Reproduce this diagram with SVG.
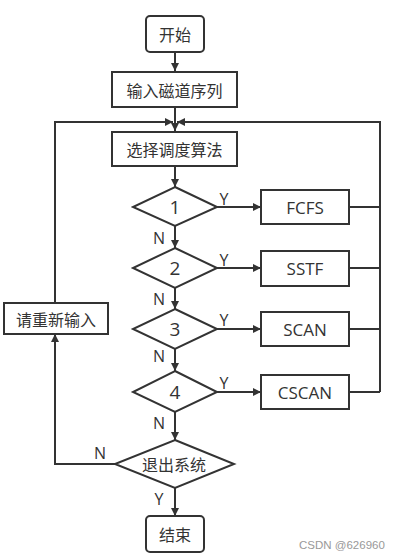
<svg xmlns="http://www.w3.org/2000/svg" width="400" height="559" viewBox="0 0 400 559">
<defs>
<style>
.box{fill:#fff;stroke:#333;stroke-width:2}
.ln{fill:none;stroke:#333;stroke-width:2}
.t{font-family:"Noto Sans CJK SC","Liberation Sans",sans-serif;font-size:16px;fill:#333;text-anchor:middle;dominant-baseline:central}
.e{font-family:"Open Sans","Liberation Sans",sans-serif;font-size:17px;fill:#333;text-anchor:middle;dominant-baseline:central}
.d{font-family:"Open Sans","Liberation Sans",sans-serif;font-size:19px;fill:#333;text-anchor:middle;dominant-baseline:central}
.lab{font-family:"Open Sans","Liberation Sans",sans-serif;font-size:16px;fill:#333;text-anchor:middle;dominant-baseline:central}
.wm{font-family:"Liberation Sans",sans-serif;font-size:11.5px;fill:#999}
</style>
<marker id="ar" viewBox="0 0 10 10" refX="10" refY="5" markerWidth="4.5" markerHeight="4" orient="auto" markerUnits="strokeWidth">
<path d="M0,0 L10,5 L0,10 z" fill="#333"/>
</marker>
</defs>
<g id="connectors">
<path class="ln" d="M175,52 V71" marker-end="url(#ar)"/>
<path class="ln" d="M175,107 V131" marker-end="url(#ar)"/>
<path class="ln" d="M55,303 V122 H173" marker-end="url(#ar)"/>
<path class="ln" d="M380,392 V122 H177" marker-end="url(#ar)"/>
<path class="ln" d="M175,166 V187" marker-end="url(#ar)"/>
<path class="ln" d="M217,207 H261" marker-end="url(#ar)"/>
<path class="ln" d="M217,268 H261" marker-end="url(#ar)"/>
<path class="ln" d="M217,329 H261" marker-end="url(#ar)"/>
<path class="ln" d="M217,392 H261" marker-end="url(#ar)"/>
<path class="ln" d="M349,207 H380"/>
<path class="ln" d="M349,268 H380"/>
<path class="ln" d="M349,329 H380"/>
<path class="ln" d="M349,392 H380"/>
<path class="ln" d="M175,226 V248" marker-end="url(#ar)"/>
<path class="ln" d="M175,288 V309" marker-end="url(#ar)"/>
<path class="ln" d="M175,349 V371" marker-end="url(#ar)"/>
<path class="ln" d="M175,412 V440" marker-end="url(#ar)"/>
<path class="ln" d="M115,464 H55 V334" marker-end="url(#ar)"/>
<path class="ln" d="M175,488 V516" marker-end="url(#ar)"/>
<text class="lab" x="224" y="199">Y</text>
<text class="lab" x="224" y="260">Y</text>
<text class="lab" x="224" y="320">Y</text>
<text class="lab" x="224" y="383">Y</text>
<text class="lab" x="159" y="238">N</text>
<text class="lab" x="159" y="299">N</text>
<text class="lab" x="159" y="356">N</text>
<text class="lab" x="159" y="423">N</text>
<text class="lab" x="100" y="453">N</text>
<text class="lab" x="159" y="499">Y</text>
</g>
<g id="start"><rect class="box" x="146" y="16" width="58" height="36" rx="4"/><text class="t" x="175" y="34">开始</text></g>
<g id="input"><rect class="box" x="112" y="72" width="125" height="35"/><text class="t" x="174.5" y="89.5">输入磁道序列</text></g>
<g id="select"><rect class="box" x="112" y="132" width="125" height="34"/><text class="t" x="174.5" y="149">选择调度算法</text></g>
<g id="d1"><polygon class="box" points="175,187 217,207 175,226 133,207"/><text class="d" x="175" y="207">1</text></g>
<g id="d2"><polygon class="box" points="175,248 217,268 175,288 133,268"/><text class="d" x="175" y="268">2</text></g>
<g id="d3"><polygon class="box" points="175,309 217,329 175,349 133,329"/><text class="d" x="175" y="329">3</text></g>
<g id="d4"><polygon class="box" points="175,371 217,392 175,412 133,392"/><text class="d" x="175" y="392">4</text></g>
<g id="fcfs"><rect class="box" x="261" y="190" width="88" height="34"/><text class="e" x="305" y="207">FCFS</text></g>
<g id="sstf"><rect class="box" x="261" y="251" width="88" height="35"/><text class="e" x="305" y="268">SSTF</text></g>
<g id="scan"><rect class="box" x="261" y="312" width="88" height="34"/><text class="e" x="305" y="329">SCAN</text></g>
<g id="cscan"><rect class="box" x="261" y="375" width="88" height="34"/><text class="e" x="305" y="392">CSCAN</text></g>
<g id="reinput"><rect class="box" x="4" y="303" width="104" height="31"/><text class="t" x="56" y="318.5">请重新输入</text></g>
<g id="exit"><polygon class="box" points="175,440 234,464 175,488 115,464"/><text class="t" x="174" y="464">退出系统</text></g>
<g id="end"><rect class="box" x="146" y="516" width="58" height="36" rx="4"/><text class="t" x="175" y="534">结束</text></g>
<text class="wm" x="299" y="549">CSDN @626960</text>
</svg>
